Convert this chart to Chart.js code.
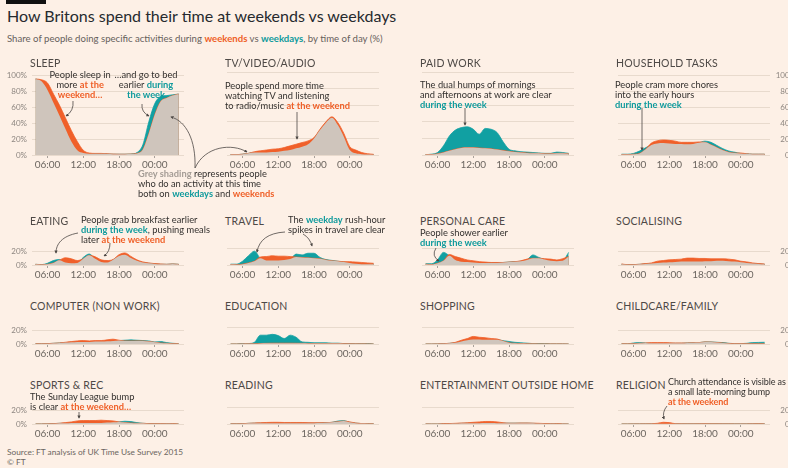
<!DOCTYPE html>
<html>
<head>
<meta charset="utf-8">
<script src="https://cdn.jsdelivr.net/npm/chart.js@4.4.1/dist/chart.umd.min.js"></script>
<style>
  body { margin: 0; width: 788px; height: 468px; overflow: hidden; position: relative; background: #fdf0e6; font-family: Lato, "Open Sans", sans-serif; color: #33302e; }
  canvas { position: absolute; }
  .bar { position: absolute; left: 6px; top: 0; width: 40px; height: 4px; background: #111; }
  .title { position: absolute; left: 7px; top: 6px; font-size: 16px; line-height: 20px; color: #262a2e; white-space: nowrap; }
  .sub { position: absolute; left: 7px; top: 33px; font-size: 9.6px; line-height: 12px; color: #66605c; white-space: nowrap; }
  .ptitle { position: absolute; font-size: 10.5px; line-height: 12px; color: #4e4946; letter-spacing: 0.2px; white-space: nowrap; }
  .note { position: absolute; font-size: 9.3px; line-height: 10px; color: #33302e; white-space: nowrap; }
  .note.tight { font-size: 9px; letter-spacing: -0.1px; }
  .src { position: absolute; left: 7px; top: 447px; font-size: 8.3px; line-height: 10px; color: #6b6560; }
  b.o { color: #ef5f27; font-weight: 700; }
  b.t { color: #0f9a9c; font-weight: 700; }
  b.g { color: #a49c95; font-weight: 700; }
  svg { position: absolute; left: 0; top: 0; }
</style>
</head>
<body>
<div class="bar"></div>
<div class="title">How Britons spend their time at weekends vs weekdays</div>
<div class="sub">Share of people doing specific activities during <b class="o">weekends</b> vs <b class="t">weekdays</b>, by time of day (%)</div>
<div class="src">Source: FT analysis of UK Time Use Survey 2015<br>© FT</div>

<script>
// hours from 04:00 to 04:00 the next day
const HOURS = [4, 5, 6, 7, 8, 9, 10, 11, 12, 13, 14, 15, 16, 17, 18, 19, 20, 21, 22, 23, 24, 25, 26, 27, 28];
const TIME_TICKS = [6, 12, 18, 24];
const TIME_LABELS = ['06:00', '12:00', '18:00', '00:00'];
const PCT_TICKS_TALL = [0, 20, 40, 60, 80, 100];
const PCT_TICKS_SHORT = [0, 20];

// share of people (%) per hour
const sleepWeekday = [96, 93, 82, 66, 50, 33, 17, 6, 2.5, 1.5, 1.5, 1.5, 1.2, 1, 1, 1, 1.2, 3, 13, 42, 65, 74, 75, 76, 77];
const sleepWeekend = [96, 95, 91, 77, 63, 47, 31, 17, 6, 2.5, 2, 2, 1.5, 1.2, 1, 1, 1.2, 2, 7, 27, 51, 68, 72, 75, 77];
const tvWeekday = [0.5, 0.5, 1, 2, 3, 3, 3, 3.5, 4, 5, 6, 8, 10, 13, 20, 30, 39, 45, 36, 22, 6, 2, 1, 0.5, 0.3];
const tvWeekend = [0.5, 0.5, 1, 2, 4, 5, 6, 7, 7.5, 9, 11, 13, 15, 17, 21, 31, 40, 46, 39, 26, 10, 6, 3, 1.5, 0.8];
const workWeekday = [0.5, 1, 3, 11, 23, 30, 33, 34, 31, 25, 32, 31, 27, 16, 7, 5, 4, 3.5, 3, 2.5, 2, 2, 3.5, 3, 2];
const workWeekend = [0.5, 0.5, 1.5, 3, 5, 7, 8.5, 9, 9, 8.5, 8, 7.5, 6.5, 5.5, 4.5, 3.5, 3, 2.5, 2, 2, 1.5, 1.5, 2, 2, 1.5];
const houseWeekday = [1, 1, 2, 5, 9, 12.5, 14.5, 15, 14.5, 14, 14, 13.5, 14, 15.5, 17.5, 16, 12, 8, 5, 3.5, 2, 1.5, 1, 1, 1];
const houseWeekend = [0.5, 0.5, 1, 2, 7, 15, 18, 19, 18.5, 17.5, 16, 16, 16, 16.5, 16, 13, 9.5, 6, 3.5, 2.5, 2.5, 1.5, 1, 1, 1];
const eatWeekday = [1, 0.5, 2.5, 6.5, 8, 3.5, 2.5, 3, 11, 16, 9, 4.5, 3.5, 7.5, 13, 15, 10, 6, 3.5, 2.5, 1.5, 1, 1, 1.5, 1];
const eatWeekend = [1, 0.3, 1, 3, 7, 10.5, 9, 6.5, 9, 14, 12, 7.5, 6.5, 8, 15, 17.5, 12.5, 7.5, 4.5, 3, 2, 1.5, 1, 1.5, 1];
const travelWeekday = [1, 1, 4.5, 11, 16.5, 8, 5.5, 5.5, 5.5, 6, 7, 13, 12, 14, 14, 9, 6.5, 5.5, 4.5, 3.5, 2.5, 1.5, 1, 1, 1];
const travelWeekend = [0.5, 0.3, 1, 2.5, 4.5, 9.5, 10, 11, 10.5, 10.5, 10, 9.5, 9, 8.5, 8, 7.5, 6, 5, 4.5, 4, 4, 3.5, 3, 2.5, 2];
const careWeekday = [1.5, 1.5, 6, 15, 11, 6, 4, 3.5, 3, 2.5, 2.5, 2.5, 2.5, 3, 3.5, 4, 4.5, 6, 12, 9, 6.5, 5, 4.5, 5, 15];
const careWeekend = [1, 0.5, 2, 5, 12.5, 10, 8, 6, 5, 4, 3.5, 3, 3, 3, 3.5, 4, 5, 7, 8, 8, 7.5, 7, 6, 7.5, 10];
const socialWeekday = [1, 0.3, 0.5, 1, 1.5, 2, 3, 3.5, 4, 4.5, 5, 5, 5, 5, 5.5, 5.5, 6, 6, 5.5, 5, 4, 3, 2, 1.5, 1];
const socialWeekend = [1.5, 0.5, 0.5, 1, 2, 3, 5.5, 6.5, 7.5, 8, 8.5, 10, 10, 9.5, 9.5, 9, 9, 9, 8.5, 7.5, 5.5, 4.5, 3, 2, 1.5];
const compWeekday = [0.5, 0.3, 0.5, 1, 1.5, 2, 2.5, 3, 3, 3, 3.5, 3.5, 4, 4.5, 5, 5.5, 6, 5.5, 5, 4.5, 3, 3.5, 2, 1, 0.5];
const compWeekend = [0.5, 0.3, 0.5, 1, 1.5, 2.5, 3.5, 4.5, 5, 4.5, 5, 5, 6, 7, 5.5, 4.5, 4.5, 4.5, 4.5, 3.5, 2.5, 1.5, 1, 0.5, 0.5];
const eduWeekday = [0, 0, 0.2, 0.5, 2, 10.5, 10.5, 11.5, 10, 6.5, 10.5, 8, 2.5, 2, 1.5, 1.5, 1.5, 1, 1, 0.5, 0.5, 0.3, 0.5, 0.3, 0];
const eduWeekend = [0, 0, 0.1, 0.2, 0.3, 0.6, 0.8, 1, 1, 1, 1, 0.9, 0.8, 0.6, 0.5, 0.5, 0.5, 0.5, 0.5, 0.4, 0.3, 0.2, 0.2, 0.1, 0];
const shopWeekday = [0, 0, 0.1, 0.3, 0.8, 1.5, 3, 4.5, 5.5, 5.5, 5, 5, 5, 4, 3, 2, 1.5, 1, 0.5, 0.3, 0.2, 0.1, 0.1, 0.1, 0];
const shopWeekend = [0, 0, 0.1, 0.3, 0.8, 2, 4.5, 6.5, 9, 8, 7.5, 6.5, 6, 3.5, 1.5, 0.8, 0.5, 0.3, 0.2, 0.1, 0.1, 0.1, 0.1, 0.1, 0];
const childWeekday = [0.3, 0.3, 1.5, 2, 1.5, 1, 1, 1, 1, 1, 1, 1.5, 1.8, 2, 3, 3, 2.5, 2, 1, 0.5, 0.5, 1, 2, 2.3, 2.5];
const childWeekend = [0.3, 0.3, 0.5, 1, 1.5, 2, 2, 2, 1.8, 1.5, 1.5, 1.5, 1.8, 2, 3, 2.8, 2.2, 1.5, 0.8, 0.5, 0.5, 0.5, 0.5, 0.5, 0.5];
const sportWeekday = [0, 0, 0.2, 0.5, 1, 1, 1.5, 1.5, 1.5, 1.5, 1.5, 1.5, 2, 2.5, 3, 4, 3.5, 2, 1, 0.5, 0.5, 0.3, 0.2, 0.1, 0];
const sportWeekend = [0, 0, 0.2, 0.5, 1, 2, 3, 4.5, 5, 5, 5, 5.5, 5, 4.5, 3, 2, 1.5, 1, 1, 0.5, 0.5, 0.5, 0.3, 0.2, 0];
const readWeekday = [0.2, 0.2, 0.3, 0.8, 1, 1, 1, 1, 1, 1, 1, 1, 1, 1, 1, 1.2, 1.5, 2, 3.5, 4, 2, 1, 0.5, 0.3, 0.2];
const readWeekend = [0.2, 0.2, 0.3, 0.8, 1.2, 1.5, 1.8, 2, 2, 1.8, 1.8, 1.8, 1.8, 1.6, 1.5, 1.5, 1.5, 2, 2.8, 3.5, 2.5, 1.2, 0.5, 0.3, 0.2];
const entWeekday = [0, 0, 0, 0.1, 0.3, 0.5, 0.8, 1, 1, 1, 1.2, 1.2, 1, 1, 1, 1, 1, 1, 0.8, 0.5, 0.3, 0.2, 0.1, 0, 0];
const entWeekend = [0.1, 0, 0, 0.3, 0.5, 0.8, 1.2, 1.5, 2, 2.5, 3, 3, 2.5, 1.5, 1, 1, 1.2, 1.2, 1, 0.8, 0.5, 0.3, 0.2, 0.1, 0];
const relWeekday = [0, 0, 0.1, 0.1, 0.2, 0.2, 0.3, 0.3, 0.3, 0.2, 0.2, 0.2, 0.2, 0.2, 0.3, 0.3, 0.3, 0.2, 0.2, 0.1, 0.1, 0.1, 0.3, 0.5, 0.2];
const relWeekend = [0, 0, 0.1, 0.1, 0.2, 0.3, 1, 2.5, 2, 0.5, 0.3, 0.2, 0.2, 0.3, 0.5, 0.3, 0.3, 0.2, 0.2, 0.1, 0.1, 0.1, 0.3, 0.5, 0.2];

const PANELS = [
    { title: 'SLEEP', weekday: sleepWeekday, weekend: sleepWeekend },
    { title: 'TV/VIDEO/AUDIO', weekday: tvWeekday, weekend: tvWeekend },
    { title: 'PAID WORK', weekday: workWeekday, weekend: workWeekend },
    { title: 'HOUSEHOLD TASKS', weekday: houseWeekday, weekend: houseWeekend },
    { title: 'EATING', weekday: eatWeekday, weekend: eatWeekend },
    { title: 'TRAVEL', weekday: travelWeekday, weekend: travelWeekend },
    { title: 'PERSONAL CARE', weekday: careWeekday, weekend: careWeekend },
    { title: 'SOCIALISING', weekday: socialWeekday, weekend: socialWeekend },
    { title: 'COMPUTER (NON WORK)', weekday: compWeekday, weekend: compWeekend },
    { title: 'EDUCATION', weekday: eduWeekday, weekend: eduWeekend },
    { title: 'SHOPPING', weekday: shopWeekday, weekend: shopWeekend },
    { title: 'CHILDCARE/FAMILY', weekday: childWeekday, weekend: childWeekend },
    { title: 'SPORTS & REC', weekday: sportWeekday, weekend: sportWeekend },
    { title: 'READING', weekday: readWeekday, weekend: readWeekend },
    { title: 'ENTERTAINMENT OUTSIDE HOME', weekday: entWeekday, weekend: entWeekend },
    { title: 'RELIGION', weekday: relWeekday, weekend: relWeekend }
];

// layout
const COL_X = [32, 227, 422, 618];      // left edge of each plot area
const ROW_BASE = [155, 265, 344, 424];  // 0% line of each row
const TITLE_Y = [57, 215, 300, 379];
const CHART_W = 152;
const X_MIN = 3.4, X_MAX = 28.9;
const PX_PER_PCT = 0.83;
const LEFT_AXIS_W = 32, RIGHT_AXIS_W = 26;
const PAD_TOP = 6, X_AXIS_H = 18;

const ORANGE = '#f0602a';
const TEAL = '#11a0a2';
const GREY = '#cfc5bc';
const GRID = '#e8dacd';
const FONT = 'Lato, "Open Sans", sans-serif';

function toPoints(arr) {
    return HOURS.map((h, k) => ({ x: h, y: arr[k] }));
}

function renderPanel(p, i) {
    const row = Math.floor(i / 4), col = i % 4;
    const yMax = row === 0 ? 100 : 25;
    const yTicks = row === 0 ? PCT_TICKS_TALL : PCT_TICKS_SHORT;
    const chartH = Math.round(yMax * PX_PER_PCT);
    const leftW = col === 0 ? LEFT_AXIS_W : 0;
    const rightW = col === 3 ? RIGHT_AXIS_W : 0;

    const canvas = document.createElement('canvas');
    canvas.width = leftW + CHART_W + rightW;
    canvas.height = PAD_TOP + chartH + X_AXIS_H;
    canvas.style.left = (COL_X[col] - leftW) + 'px';
    canvas.style.top = (ROW_BASE[row] - chartH - PAD_TOP) + 'px';
    document.body.appendChild(canvas);

    const t = document.createElement('div');
    t.className = 'ptitle';
    t.textContent = p.title;
    t.style.left = (COL_X[col] - 2) + 'px';
    t.style.top = TITLE_Y[row] + 'px';
    document.body.appendChild(t);

    // grey = share doing it both on weekdays and weekends
    const both = p.weekday.map((v, k) => Math.min(v, p.weekend[k]));

    new Chart(canvas, {
        type: 'line',
        data: {
            datasets: [
                { data: toPoints(both), backgroundColor: GREY, borderWidth: 0, order: 0 },
                { data: toPoints(p.weekend), backgroundColor: ORANGE, borderColor: ORANGE, borderWidth: 0.8, order: 1 },
                { data: toPoints(p.weekday), backgroundColor: TEAL, borderColor: TEAL, borderWidth: 0.8, order: 2 }
            ]
        },
        options: {
            responsive: false,
            animation: false,
            devicePixelRatio: 1,
            events: [],
            layout: { padding: { top: PAD_TOP, left: 0, right: 0, bottom: 0 } },
            elements: {
                point: { radius: 0 },
                line: { fill: 'origin', cubicInterpolationMode: 'monotone' }
            },
            plugins: { legend: { display: false }, tooltip: { enabled: false } },
            scales: {
                x: {
                    type: 'linear',
                    min: X_MIN,
                    max: X_MAX,
                    afterBuildTicks: s => { s.ticks = TIME_TICKS.map(v => ({ value: v })); },
                    afterFit: s => { s.height = X_AXIS_H; },
                    grid: { drawOnChartArea: false, drawTicks: true, tickLength: 3, color: '#a9a19a' },
                    border: { display: false },
                    ticks: {
                        autoSkip: false,
                        maxRotation: 0,
                        padding: 1,
                        color: '#6c6660',
                        font: { family: FONT, size: 10 },
                        callback: (v, idx) => TIME_LABELS[idx]
                    }
                },
                y: {
                    position: col === 3 ? 'right' : 'left',
                    min: 0,
                    max: yMax,
                    afterBuildTicks: s => { s.ticks = yTicks.map(v => ({ value: v })); },
                    afterFit: s => { s.width = col === 0 ? LEFT_AXIS_W : (col === 3 ? RIGHT_AXIS_W : 0); },
                    grid: { color: GRID, drawTicks: false },
                    border: { display: false },
                    ticks: {
                        display: col === 0 || col === 3,
                        padding: 5,
                        crossAlign: col === 3 ? 'far' : 'near',
                        color: '#8d8680',
                        font: { family: FONT, size: 8 },
                        callback: v => v + '%'
                    }
                }
            }
        }
    });
}

PANELS.forEach(renderPanel);

// annotations: [left, top, align, html, extra class]
const NOTES = [
    [80, 70, 'center', 'People sleep in<br>more <b class="o">at the</b><br><b class="o">weekend…</b>'],
    [146, 70, 'center', '…and go to bed<br>earlier <b class="t">during</b><br><b class="t">the week</b>'],
    [138, 169, 'left', '<b class="g">Grey shading</b> represents people<br>who do an activity at this time<br>both on <b class="t">weekdays</b> and <b class="o">weekends</b>'],
    [225, 81, 'left', 'People spend more time<br>watching TV and listening<br>to radio/music <b class="o">at the weekend</b>'],
    [420, 80, 'left', 'The dual humps of mornings<br>and afternoons at work are clear<br><b class="t">during the week</b>'],
    [615, 80, 'left', 'People cram more chores<br>into the early hours<br><b class="t">during the week</b>'],
    [81, 215, 'left', 'People grab breakfast earlier<br><b class="t">during the week</b>, pushing meals<br>later <b class="o">at the weekend</b>'],
    [288, 215, 'left', 'The <b class="t">weekday</b> rush-hour<br>spikes in travel are clear'],
    [420, 228, 'left', 'People shower earlier<br><b class="t">during the week</b>'],
    [30, 392, 'left', 'The Sunday League bump<br>is clear <b class="o">at the weekend…</b>'],
    [668, 377, 'left', 'Church attendance is visible as<br>a small late-morning bump<br><b class="o">at the weekend</b>', 'tight']
];

NOTES.forEach(([x, y, align, html, extra]) => {
    const d = document.createElement('div');
    d.className = 'note' + (extra ? ' ' + extra : '');
    d.innerHTML = html;
    d.style.top = y + 'px';
    d.style.textAlign = align;
    document.body.appendChild(d);
    if (align === 'center') {
        d.style.left = (x - d.offsetWidth / 2) + 'px';
    } else {
        d.style.left = x + 'px';
    }
});

// pointer arrows
const ARROWS = [
    'M 73 101 Q 74 111 66 116',
    'M 142 104 Q 141 112 149 116',
    'M 195 168 C 196 140 186 121 171 117',
    'M 195 168 C 205 146 232 143 247 152',
    'M 297 112 L 297 139',
    'M 465 108 L 465 125',
    'M 642 108 L 642 150',
    'M 78 233 C 62 236 56 244 56 253',
    'M 110 243 Q 110 252 104 256',
    'M 285 232 C 268 233 259 240 257 252',
    'M 303 234 Q 310 238 312 246',
    'M 436 248 Q 431 256 439 261',
    'M 79 412 L 79 418',
    'M 667 406 Q 662 412 664 419'
];
const svgNS = 'http://www.w3.org/2000/svg';
const svg = document.createElementNS(svgNS, 'svg');
svg.setAttribute('width', 788);
svg.setAttribute('height', 468);
svg.innerHTML = '<defs><marker id="ah" viewBox="0 0 10 10" refX="8" refY="5" markerWidth="4" markerHeight="4" orient="auto"><path d="M0,0 L10,5 L0,10 z" fill="#4d4845"/></marker></defs>' +
    ARROWS.map(d => `<path d="${d}" fill="none" stroke="#4d4845" stroke-width="0.8" marker-end="url(#ah)"/>`).join('');
document.body.appendChild(svg);
</script>
</body>
</html>
